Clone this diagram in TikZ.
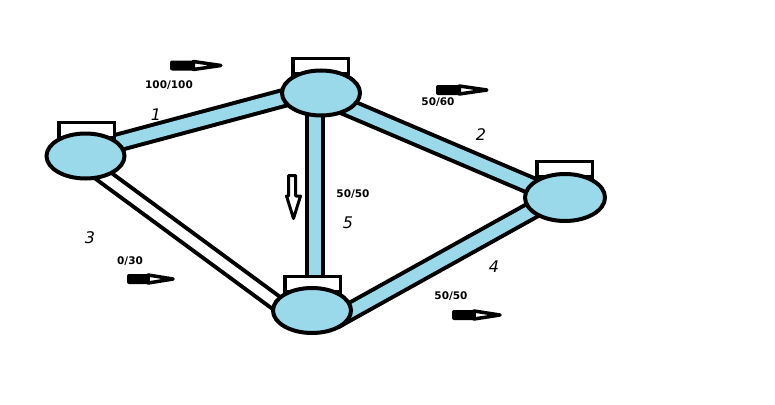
\documentclass[tikz,border=0pt]{standalone}
\usepackage{fontspec}
\setmainfont{DejaVu Sans}
\usetikzlibrary{shapes.geometric,calc}
\definecolor{lblue}{RGB}{153,217,234}
\begin{document}
\begin{tikzpicture}[x=1pt,y=-1pt,
  hub/.style={ellipse, draw=black, line width=4pt, fill=lblue, inner sep=0pt, minimum width=78pt, minimum height=45pt},
  topbox/.style={rectangle, draw=black, line width=3.5pt, fill=white, inner sep=0pt, minimum width=55.5pt, minimum height=15.5pt},
  link/.style={draw=black, line width=4pt, double=lblue, double distance=12pt, line cap=butt},
  emptylink/.style={link, double=white, double distance=10pt},
  flowlbl/.style={font=\fontsize{10.5}{12}\selectfont\bfseries, inner sep=0pt},
  numlbl/.style={font=\fontsize{16}{18}\selectfont\itshape, inner sep=0pt},
  flowarr/.pic={
    \fill[rounded corners=2pt] (0,-5) rectangle (24,5);
    \draw[line width=3.5pt, line join=round, fill=white] (22,-4) -- (48,0) -- (22,4) -- cycle;
  }
]
\useasboundingbox (0,0) rectangle (775,404);
\fill[white] (0,0) rectangle (775,404);

% hub positions (coordinates only, drawn later)
\coordinate (A) at (85.5,156);
\coordinate (B) at (321,93);
\coordinate (C) at (565,197.5);
\coordinate (D) at (312,310.5);

% links
\draw[link] ($(A)+(0.5,-5)$) -- ($(B)+(0,-5)$);
\draw[link] ($(B)+(0,3)$) -- ($(C)+(0,2.5)$);
\draw[link] ($(C)+(0,-5.5)$) -- ($(D)+(22,10)$);
\draw[link] ($(B)+(-6,0)$) -- ($(D)+(3,-10)$);
\draw[emptylink] ($(A)+(0.5,7)$) -- ($(D)+(-22,2.5)$);

% top boxes
\node[topbox] (At) at (86.5,130.4) {};
\node[topbox] (Bt) at (320.5,66.4) {};
\node[topbox] (Ct) at (564.5,169.4) {};
\node[topbox] (Dt) at (312.5,284.4) {};

% hubs
\node[hub] (hA) at (A) {};
\node[hub] (hB) at (B) {};
\node[hub, minimum width=80pt, minimum height=47pt] (hC) at (C) {};
\node[hub] (hD) at (D) {};

% flow arrows
\pic[xscale=1.06] at (170,65.5) {flowarr};
\pic[xscale=1.06] at (436,90) {flowarr};
\pic[xscale=0.96] at (127,279) {flowarr};
\pic at (452,315) {flowarr};
\draw[line width=3pt, line join=round, fill=white] (288.5,175.5) -- (295.5,175.5) -- (295.5,196) -- (300.5,196) -- (293.5,218.5) -- (286.5,196) -- (288.5,196) -- cycle;

% flow labels
\node[flowlbl] (f1) at (169,85) {100/100};
\node[flowlbl] (f2) at (438,102.5) {50/60};
\node[flowlbl] (f5) at (353,194) {50/50};
\node[flowlbl] (f3) at (130,261) {0/30};
\node[flowlbl] (f4) at (451,296.5) {50/50};

% link numbers
\node[numlbl] (n1) at (156,115) {1};
\node[numlbl] (n2) at (481,135) {2};
\node[numlbl] (n3) at (90,238) {3};
\node[numlbl] (n5) at (348,223) {5};
\node[numlbl] (n4) at (494,267) {4};
\end{tikzpicture}
\end{document}
